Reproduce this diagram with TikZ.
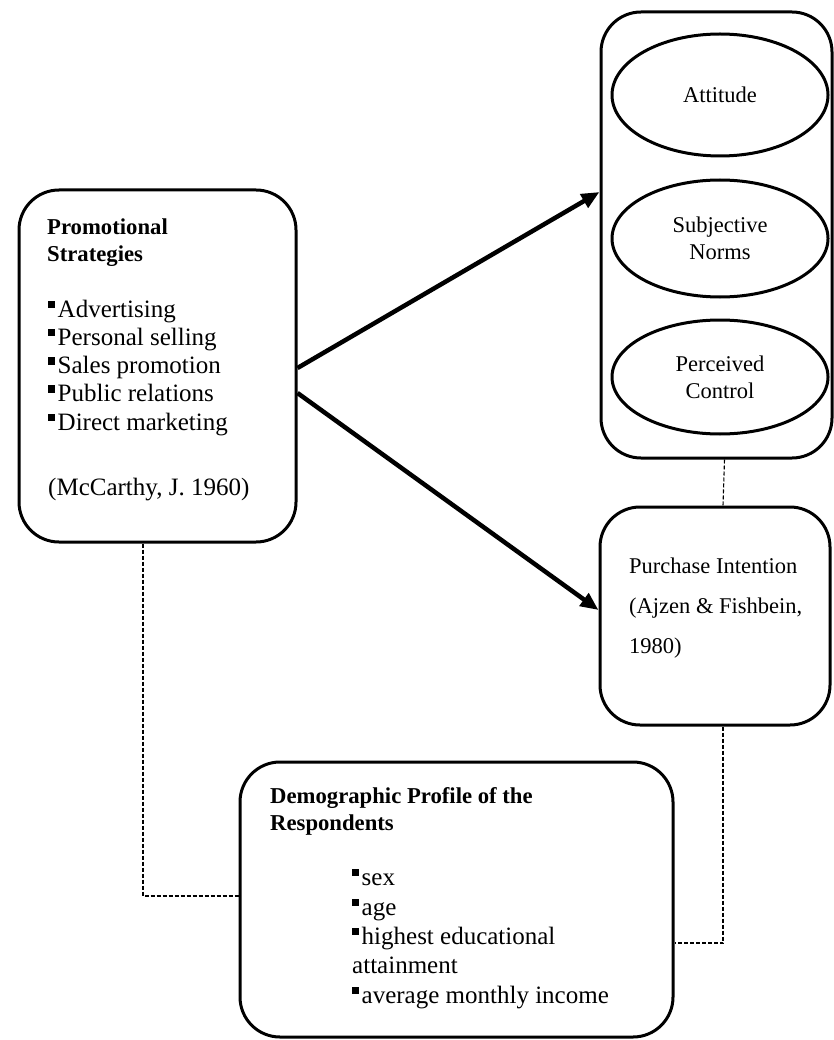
\documentclass[tikz,border=0pt]{standalone}
\usepackage{fontspec}
\setmainfont{Liberation Serif}
\usetikzlibrary{arrows.meta,shapes.geometric}
\newcommand\sqb{\rule[0.36em]{0.28em}{0.3em}\hspace{0.1em}}
\newcommand\bigtxt{\fontsize{25}{29}\selectfont}
\newcommand\midtxt{\fontsize{22.5}{27}\selectfont}
\newcommand\headtxt{\fontsize{22.7}{28}\selectfont\bfseries}
\begin{document}
\begin{tikzpicture}[x=1pt,y=-1pt,
    every node/.style={inner sep=0pt},
    box/.style={draw,line width=3pt,rounded corners=40pt},
    oval/.style={draw,ellipse,line width=3pt,minimum width=216pt,align=center,font=\midtxt},
    flow/.style={line width=4.5pt,-{Triangle[length=18pt,width=15pt]}},
    link/.style={line width=1.1pt,dash pattern=on 4pt off 2pt}]
  \useasboundingbox (0,0) rectangle (834,1040);

  \node[box,minimum width=277pt,minimum height=352pt] (promo) at (157.5,366) {};
  \node[box,minimum width=231pt,minimum height=446pt] (tpb) at (716.5,235) {};
  \node[box,minimum width=230pt,minimum height=218pt] (purch) at (715,616) {};
  \node[box,minimum width=433pt,minimum height=275pt] (demo) at (456.5,899.5) {};

  \node[oval,minimum height=122pt] (att) at (720,95) {Attitude};
  \node[oval,minimum height=117pt] (sn) at (720,238.5) {Subjective\\Norms};
  \node[oval,minimum height=114pt] (pc) at (720,377) {Perceived\\Control};

  \node[anchor=base west,font=\headtxt] (promo-h1) at (47,235) {Promotional};
  \node[anchor=base west,font=\headtxt] (promo-h2) at (47,262) {Strategies};
  \foreach \t [count=\i] in {Advertising,Personal selling,Sales promotion,Public relations,Direct marketing}
    \node[anchor=base west,font=\bigtxt] (promo-\i) at (48,289+28.2*\i) {\sqb\t};
  \node[anchor=base west,font=\bigtxt] (mccarthy) at (48,495) {(McCarthy, J. 1960)};

  \node[anchor=base west,font=\midtxt] (purch-1) at (629,573) {Purchase Intention};
  \node[anchor=base west,font=\midtxt] (purch-2) at (629,613) {(Ajzen \& Fishbein,};
  \node[anchor=base west,font=\midtxt] (purch-3) at (629,653) {1980)};

  \node[anchor=base west,font=\headtxt] (demo-h1) at (270,803) {Demographic Profile of the};
  \node[anchor=base west,font=\headtxt] (demo-h2) at (270,830) {Respondents};
  \node[anchor=base west,font=\bigtxt] (demo-1) at (352,885) {\sqb sex};
  \node[anchor=base west,font=\bigtxt] (demo-2) at (352,915) {\sqb age};
  \node[anchor=base west,font=\bigtxt] (demo-3) at (352,944) {\sqb highest educational};
  \node[anchor=base west,font=\bigtxt] (demo-4) at (352,973) {attainment};
  \node[anchor=base west,font=\bigtxt] (demo-5) at (352,1003) {\sqb average monthly income};

  \draw[flow] ([yshift=-2pt]promo.east) -- ([yshift=43pt]tpb.west);
  \draw[flow] ([yshift=-27pt]promo.east) -- ([yshift=6pt]purch.west);

  \draw[link] ([xshift=8pt]tpb.south) -- ([xshift=8pt]purch.north);
  \draw[link] ([xshift=8pt]purch.south) |- ([yshift=-43.5pt]demo.east);
  \draw[link] ([xshift=-14.5pt]promo.south) |- ([yshift=3.5pt]demo.west);
\end{tikzpicture}
\end{document}
